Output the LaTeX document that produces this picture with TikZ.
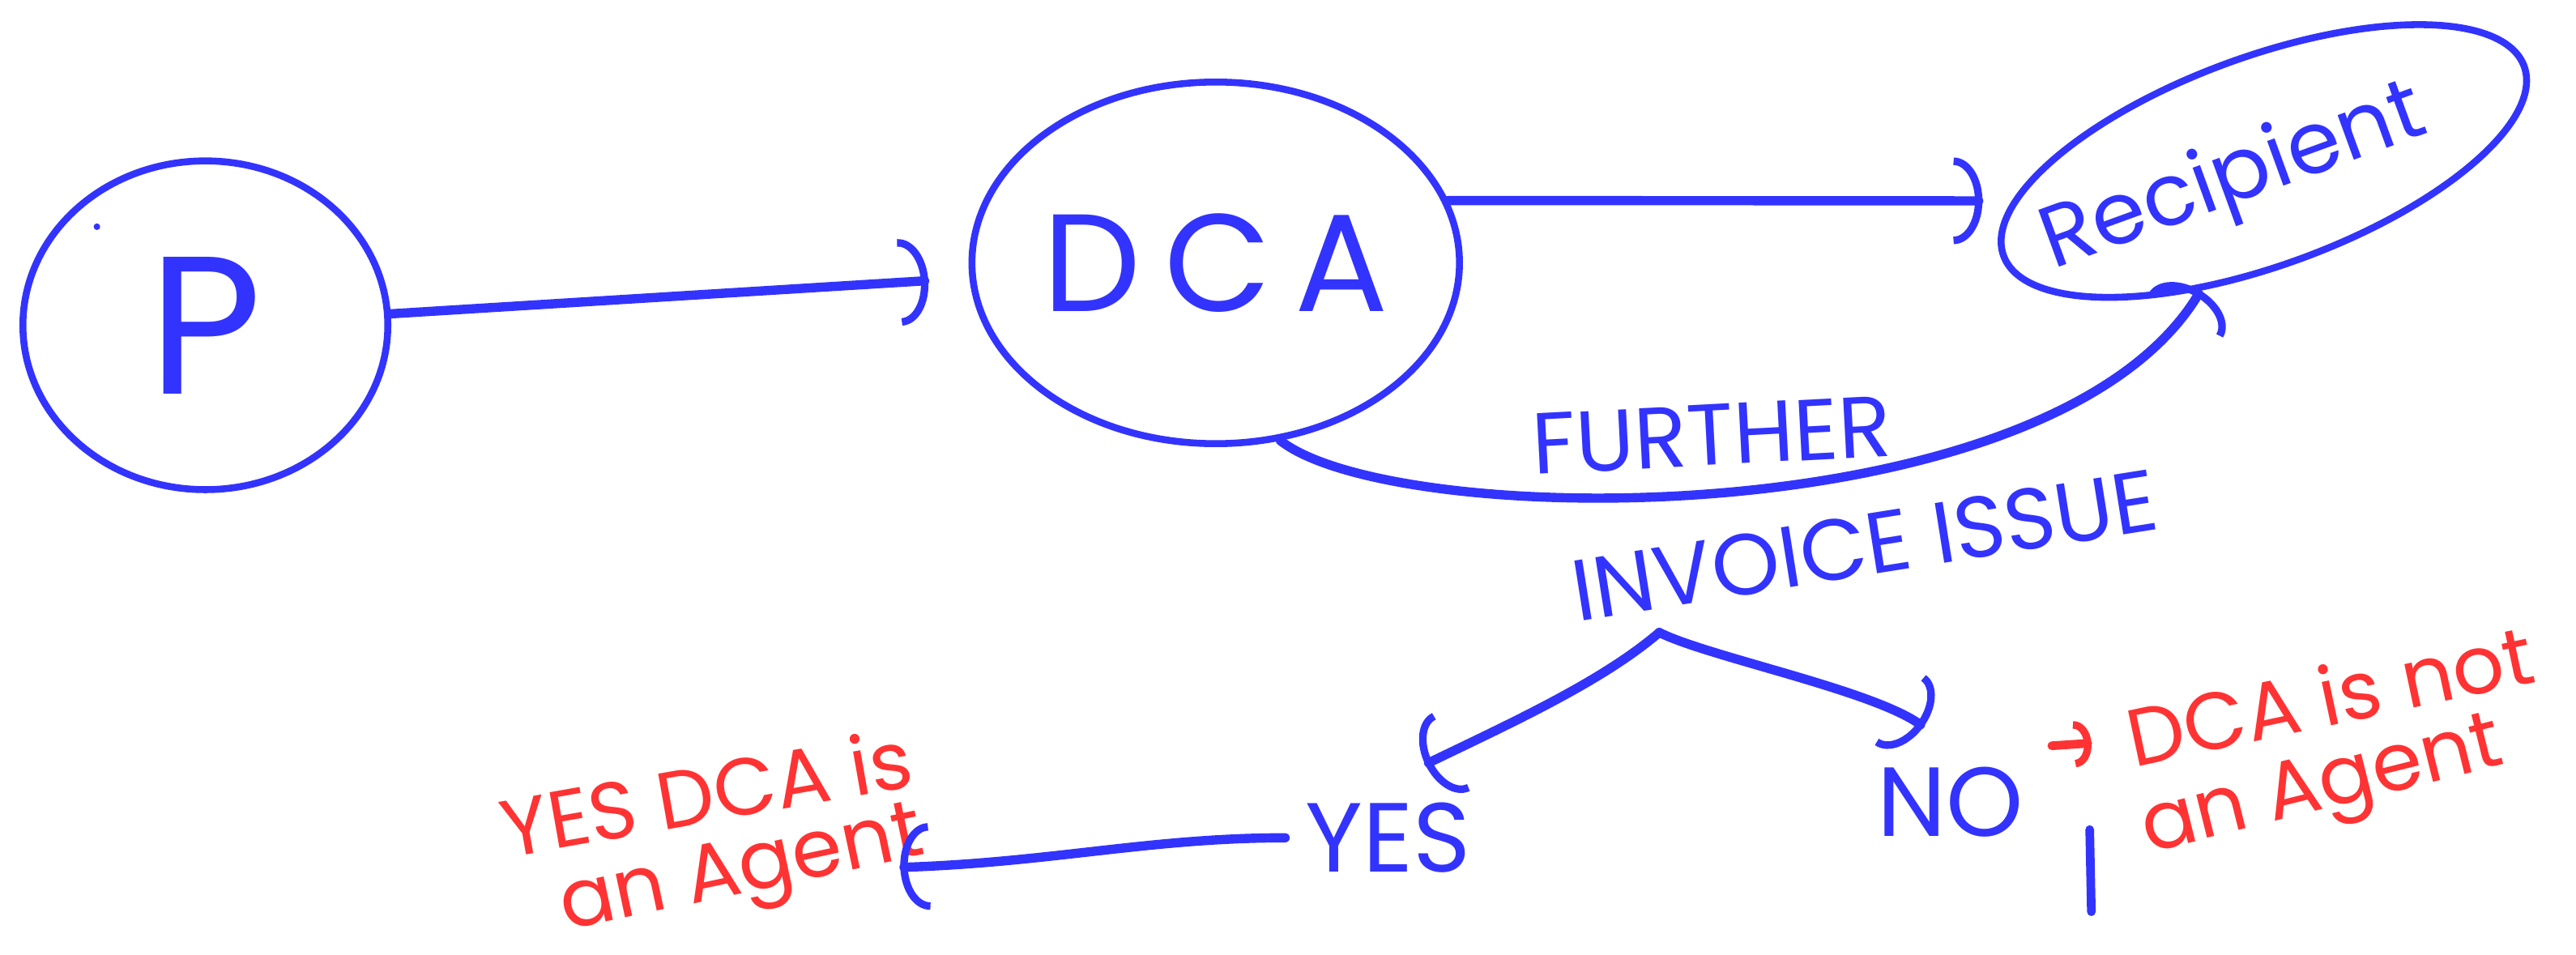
\documentclass[tikz,border=0pt]{standalone}
\usepackage{fontspec}
\setmainfont{Poppins}
\usetikzlibrary{shapes.geometric,arrows.meta,calc}
\definecolor{pen}{RGB}{51,51,255}
\definecolor{redpen}{RGB}{255,51,51}
\begin{document}
\begin{tikzpicture}[x=0.01cm,y=-0.01cm,
  bubble/.style={ellipse, draw=pen, line width=1.2pt, inner sep=0pt, text=pen},
  link/.style={draw=pen, line width=1.6pt, line cap=round,
    -{Arc Barb[length=5pt,width=15pt,line width=1.3pt]}},
  redlink/.style={draw=redpen, line width=1.5pt, line cap=round,
    -{Arc Barb[length=3pt,width=8pt,line width=1.3pt]}},
  handtext/.style={text=pen, font=\fontsize{15}{18}\selectfont},
  note/.style={text=redpen, font=\fontsize{14}{17}\selectfont},
  stroke/.style={draw=pen, line width=1.5pt, line cap=round}]
\useasboundingbox (0,0) rectangle (1568,581);

% nodes
\node[bubble, minimum width=2.22cm, minimum height=2.0cm] (p) at (125,198)
  {\fontsize{34}{40}\selectfont P};
\node[bubble, minimum width=2.85cm, minimum height=2.2cm] (dca) at (740,160)
  {\fontsize{24}{28}\selectfont D\,C\,A};
\node[bubble, minimum width=3.37cm, minimum height=1.27cm, rotate=20] (rec) at (1378,98) {};
\node[text=pen, font=\fontsize{15}{18}\selectfont, rotate=20] (rectxt) at (1360,110) {Recipient};

\node[handtext, rotate=3] (further) at (1042,265) {FURTHER};
\node[handtext, rotate=9] (invoice) at (1135,332) {INVOICE ISSUE};
\coordinate (fork) at (1010,385);
\node[handtext, font=\fontsize{17}{20}\selectfont] (yes) at (845,510) {YES};
\node[handtext, font=\fontsize{17}{20}\selectfont] (no) at (1187,488) {NO};

\node[note, rotate=10] (ryes1) at (430,482) {YES DCA is};
\node[note, rotate=12] (ryes2) at (452,533) {an Agent};
\node[note, rotate=12] (rno1) at (1418,423) {DCA is not};
\node[note, rotate=14] (rno2) at (1414,482) {an Agent};
\coordinate (yesend) at (548,528);

% connectors
\draw[link, shorten >=0.25cm] (p) -- (dca);
\draw[link, shorten >=0.18cm] (dca.15) -- (rec.169);
\draw[link] (dca.-70) .. controls +(70,55) and +(-90,150) .. (rec.224);
\draw[link, shorten >=0.25cm] (fork) .. controls (975,415) and (920,440) .. (yes.north);
\draw[link, shorten >=0.2cm] (fork) .. controls (1040,400) and (1140,420) .. (no.north);
\draw[link] (yes.west) .. controls (700,510) and (640,525) .. (yesend);
\draw[redlink, shorten <=0.05cm, shorten >=0.1cm] (no.north east) -- (rno1.west);

% loose strokes
\fill[pen] (59,138) circle (2);
\draw[stroke] (1272,505) -- (1273,555);
\end{tikzpicture}
\end{document}
